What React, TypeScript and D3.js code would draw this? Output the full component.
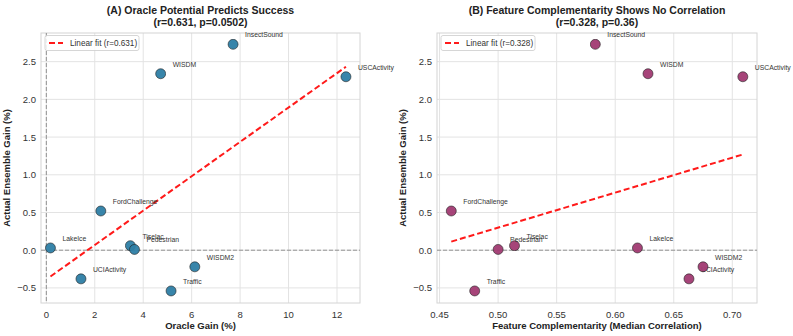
import * as d3 from 'd3';

const W = 793;
const H = 336;

const datasets = ['InsectSound', 'WISDM', 'USCActivity', 'FordChallenge', 'LakeIce', 'Tiselac', 'Pedestrian', 'UCIActivity', 'WISDM2', 'Traffic'];
const oracleGain = [7.71, 4.72, 12.37, 2.25, 0.17, 3.47, 3.64, 1.43, 6.13, 5.15];
const ensembleGain = [2.73, 2.34, 2.30, 0.52, 0.03, 0.06, 0.01, -0.38, -0.22, -0.54];
const complementarity = [0.583, 0.628, 0.709, 0.460, 0.619, 0.514, 0.500, 0.663, 0.675, 0.480];

const xTicksA = [0, 2, 4, 6, 8, 10, 12];
const xTicksB = [0.45, 0.5, 0.55, 0.6, 0.65, 0.7];
const yTicks = [-0.5, 0, 0.5, 1, 1.5, 2, 2.5];

const FONT = '"Liberation Sans", Arial, sans-serif';

/* least squares fit */
function fit(xs: number[], ys: number[]) {
  const mx = d3.mean(xs)!;
  const my = d3.mean(ys)!;
  let sxy = 0, sxx = 0;
  xs.forEach((x, i) => { sxy += (x - mx) * (ys[i] - my); sxx += (x - mx) * (x - mx); });
  const slope = sxy / sxx;
  return { slope, intercept: my - slope * mx };
}

function Panel({ left, right, xs, xDomain, xTicks, xFmt, color, title1, title2, xLabel, legend, showVZero }: any) {
  const top = 33, bottom = 303;
  const x = d3.scaleLinear().domain(xDomain).range([left, right]);
  const y = d3.scaleLinear().domain([-0.70, 2.88]).range([bottom, top]);
  const f = fit(xs, ensembleGain);
  const [x0, x1] = d3.extent(xs) as [number, number];
  const line = d3.line<number>().x(d => x(d)).y(d => y(f.intercept + f.slope * d));
  const cx = (left + right) / 2;
  return (
    <g fontFamily={FONT}>
      <text x={cx} y={14} textAnchor="middle" fontSize={10.5} fontWeight="bold" fill="#222">{title1}</text>
      <text x={cx} y={26} textAnchor="middle" fontSize={10.5} fontWeight="bold" fill="#222">{title2}</text>
      {xTicks.map((t: number) => (
        <line key={'gx' + t} x1={x(t)} x2={x(t)} y1={top} y2={bottom} stroke="#e3e3e3" strokeWidth={1} />
      ))}
      {yTicks.map(t => (
        <line key={'gy' + t} x1={left} x2={right} y1={y(t)} y2={y(t)} stroke="#e3e3e3" strokeWidth={1} />
      ))}
      <rect x={left} y={top} width={right - left} height={bottom - top} fill="none" stroke="#d4d4d4" strokeWidth={1} />
      {xTicks.map((t: number) => (
        <text key={'tx' + t} x={x(t)} y={317.5} textAnchor="middle" fontSize={9.5} fill="#333">{xFmt(t)}</text>
      ))}
      {yTicks.map(t => (
        <text key={'ty' + t} x={left - 5} y={y(t) + 3.5} textAnchor="end" fontSize={9.5} fill="#333">
          {t < 0 ? '\u2212' + d3.format('.1f')(-t) : d3.format('.1f')(t)}
        </text>
      ))}
      <line x1={left} x2={right} y1={y(0)} y2={y(0)} stroke="#888" strokeWidth={0.9} strokeDasharray="4,2" />
      {showVZero && <line x1={x(0)} x2={x(0)} y1={top} y2={bottom} stroke="#888" strokeWidth={0.9} strokeDasharray="4,2" />}
      <path d={line([x0, x1])!} fill="none" stroke="#ff1a1a" strokeWidth={2} strokeDasharray="6,3" />
      {xs.map((v: number, i: number) => (
        <g key={datasets[i]}>
          <circle cx={x(v)} cy={y(ensembleGain[i])} r={5} fill={color} stroke="#1a1a1a" strokeWidth={0.6} opacity={0.95} />
          <text x={x(v) + 12} y={y(ensembleGain[i]) - 7} fontSize={6.8} fill="#333">{datasets[i]}</text>
        </g>
      ))}
      <rect x={left + 4} y={35.5} width={94} height={15} rx={2} fill="#fff" fillOpacity={0.85} stroke="#ccc" strokeWidth={0.8} />
      <line x1={left + 8} x2={left + 22} y1={43} y2={43} stroke="#ff1a1a" strokeWidth={2} strokeDasharray="6,3" />
      <text x={left + 29} y={46} fontSize={8.2} fill="#333">{legend}</text>
      <text x={cx} y={329} textAnchor="middle" fontSize={9.5} fontWeight="bold" fill="#222">{xLabel}</text>
      <text transform={`translate(${left - 31},${(top + bottom) / 2}) rotate(-90)`} textAnchor="middle" fontSize={9.5} fontWeight="bold" fill="#222">Actual Ensemble Gain (%)</text>
    </g>
  );
}

export default function App() {
  return (
    <div style={{ position: 'fixed', left: 0, top: 0, background: '#fff' }}>
      <svg width={W} height={H} style={{ display: 'block' }}>
        <rect width={W} height={H} fill="#fff" />
        <Panel left={41} right={360} xs={oracleGain} xDomain={[-0.22, 12.95]} xTicks={xTicksA} xFmt={(t: number) => String(t)}
          color="#2E7FA6" title1="(A) Oracle Potential Predicts Success" title2="(r=0.631, p=0.0502)"
          xLabel="Oracle Gain (%)" legend="Linear fit (r=0.631)" showVZero />
        <Panel left={437} right={757} xs={complementarity} xDomain={[0.4478, 0.7211]} xTicks={xTicksB} xFmt={d3.format('.2f')}
          color="#A23B72" title1="(B) Feature Complementarity Shows No Correlation" title2="(r=0.328, p=0.36)"
          xLabel="Feature Complementarity (Median Correlation)" legend="Linear fit (r=0.328)" showVZero={false} />
      </svg>
    </div>
  );
}
